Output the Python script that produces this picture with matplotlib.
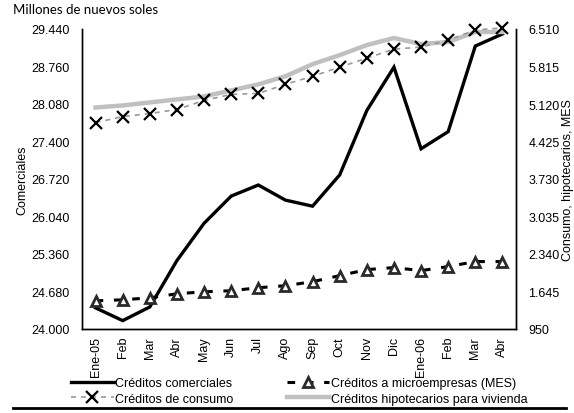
import matplotlib
matplotlib.use("Agg")
import matplotlib.pyplot as plt
from matplotlib.lines import Line2D
from matplotlib.ticker import FuncFormatter

months = ["Ene-05", "Feb", "Mar", "Abr", "May", "Jun", "Jul", "Ago", "Sep", "Oct",
          "Nov", "Dic", "Ene-06", "Feb", "Mar", "Abr"]
comerciales = [24383, 24152, 24400, 25242, 25917, 26410, 26611, 26337, 26227, 26794,
               27962, 28748, 27268, 27579, 29131, 29350]
consumo = [4775, 4887, 4943, 5018, 5186, 5298, 5316, 5484, 5634, 5802,
           5970, 6137, 6175, 6305, 6492, 6529]
hipotecarios = [5055, 5093, 5149, 5205, 5260, 5372, 5484, 5634, 5858, 6026,
                6212, 6343, 6231, 6268, 6455, 6455]
mes = [1472, 1491, 1528, 1603, 1640, 1659, 1715, 1752, 1827, 1939,
       2051, 2088, 2032, 2107, 2200, 2200]
left_ticks = [24000, 24680, 25360, 26040, 26720, 27400, 28080, 28760, 29440]
right_ticks = [950, 1645, 2340, 3035, 3730, 4425, 5120, 5815, 6510]

plt.rcParams['font.family'] = ['Liberation Sans', 'DejaVu Sans']

fig = plt.figure(figsize=(5.74, 4.14), dpi=100)
ax = fig.add_axes([82/574, 1-330/414, (516-82)/574, 300/414])
ax2 = ax.twinx()

x = list(range(len(months)))

fmt = FuncFormatter(lambda v, p: f"{int(round(v)):,}".replace(",", "."))

l1, = ax.plot(x, comerciales, color='black', lw=2.4, solid_joinstyle='miter',
              label='Créditos comerciales', zorder=3)
l4, = ax2.plot(x, hipotecarios, color='#c0c0c0', lw=3.2, label='Créditos hipotecarios para vivienda',
               zorder=1, clip_on=False)
l2, = ax2.plot(x, consumo, color='#999999', lw=1.2, ls=(0, (3, 3)), marker='x', ms=8,
               mec='black', mew=1.6, label='Créditos de consumo', zorder=2, clip_on=False)
l3, = ax2.plot(x, mes, color='black', lw=2.2, ls=(0, (2.5, 3.5)), marker='^', ms=6.5,
               mfc='white', mec='#2a2a2a', mew=2.0, label='Créditos a microempresas (MES)', zorder=3)

ax.set_xlim(-0.5, len(months) - 0.5)
ax.set_ylim(left_ticks[0], left_ticks[-1])
ax2.set_ylim(right_ticks[0], right_ticks[-1])
ax.set_yticks(left_ticks)
ax2.set_yticks(right_ticks)
ax.yaxis.set_major_formatter(fmt)
ax2.yaxis.set_major_formatter(fmt)
ax.set_xticks(x)
ax.set_xticklabels(months, rotation=90, fontsize=9)
ax.tick_params(axis='both', length=0, labelsize=9, pad=9)
ax.tick_params(axis='x', pad=5)
ax2.tick_params(axis='y', length=0, labelsize=9, pad=9)

for a in (ax, ax2):
    a.spines['top'].set_visible(False)
    for s in ('left', 'right', 'bottom'):
        a.spines[s].set_linewidth(1.0)

fig.text(22/574, 1-180/414, 'Comerciales', fontsize=9, rotation=90,
         ha='center', va='center')
fig.text(567.5/574, 1-180/414, 'Consumo, hipotecarios, MES', fontsize=9, rotation=90,
         ha='center', va='center')

fig.text(13/574, 1-10/414, 'Millones de nuevos soles', fontsize=9.5,
         family=['Lato', 'DejaVu Sans'], va='center', ha='left')

handles = [l1, l2, l3, l4]
fig.legend(handles, [h.get_label() for h in handles], ncol=2, loc='upper left',
           bbox_to_anchor=(71/574, 1-378/414), frameon=False, fontsize=9,
           handlelength=3.4, handletextpad=0.15, columnspacing=4.25, labelspacing=0.3,
           borderaxespad=0, borderpad=0)

fig.add_artist(Line2D([13/574, 566/574], [1-409/414, 1-409/414], color='black', lw=2.0,
                      transform=fig.transFigure))

fig.savefig('out.png', dpi=100)
